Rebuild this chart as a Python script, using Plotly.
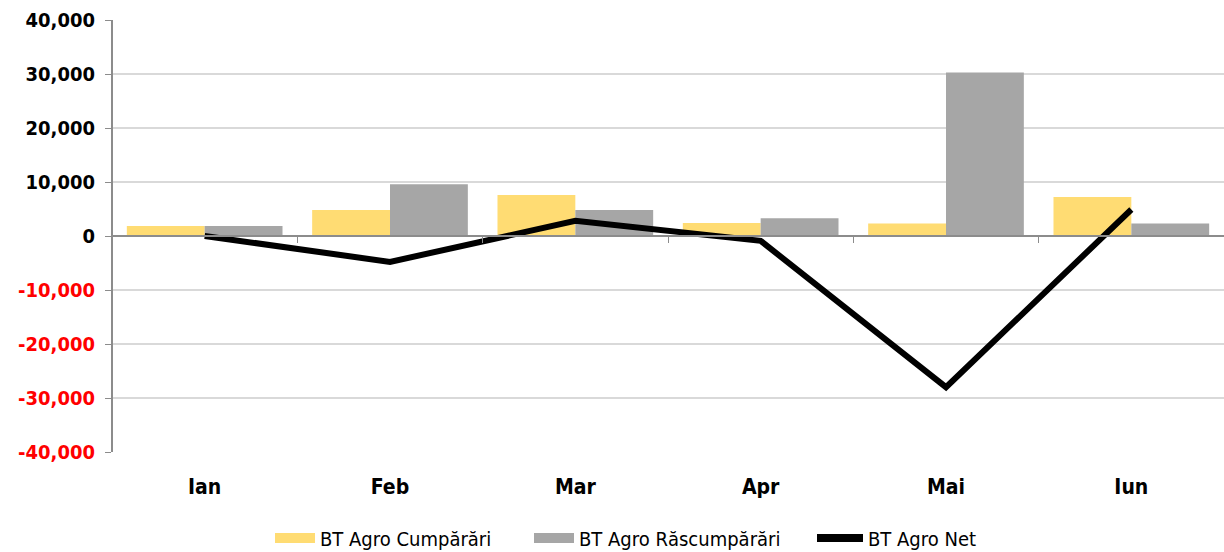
import plotly.graph_objects as go

months = ["Ian", "Feb", "Mar", "Apr", "Mai", "Iun"]
cumparari = [1850, 4800, 7600, 2400, 2300, 7200]
rascumparari = [1850, 9600, 4800, 3300, 30300, 2300]
net = [0, -4800, 2800, -900, -28000, 4900]

tick_vals = [40000, 30000, 20000, 10000, 0, -10000, -20000, -30000, -40000]
tick_text = [
    f"<span style='color:{'#ff0000' if v < 0 else '#000000'}'>{v:,}</span>"
    for v in tick_vals
]

font = "DejaVu Sans Condensed"
yellow = "#FFDC73"
gray = "#A6A6A6"

fig = go.Figure()
fig.add_trace(go.Bar(x=months, y=cumparari, name="BT Agro Cumpărări",
                     marker=dict(color=yellow, line=dict(width=0)),
                     legendgroup="c", showlegend=False))
fig.add_trace(go.Bar(x=months, y=rascumparari, name="BT Agro Răscumpărări",
                     marker=dict(color=gray, line=dict(width=0)),
                     legendgroup="r", showlegend=False))
fig.add_trace(go.Scatter(x=months, y=net, name="BT Agro Net", mode="lines",
                         line=dict(color="#000000", width=6),
                         legendgroup="n", showlegend=False))
# legend entries
fig.add_trace(go.Scatter(x=[None], y=[None], name="BT Agro Cumpărări", mode="lines",
                         line=dict(color=yellow, width=14), legendgroup="c",
                         legend="legend"))
fig.add_trace(go.Scatter(x=[None], y=[None], name="BT Agro Răscumpărări", mode="lines",
                         line=dict(color=gray, width=14), legendgroup="r",
                         legend="legend2"))
fig.add_trace(go.Scatter(x=[None], y=[None], name="BT Agro Net", mode="lines",
                         line=dict(color="#000000", width=8), legendgroup="n",
                         legend="legend3"))

def leg(px_left, iw):
    return dict(orientation="h", x=(px_left - 112) / 1112, xanchor="left",
                y=-0.199, yanchor="middle",
                font=dict(family=font, size=20, color="#000"),
                itemwidth=iw, bgcolor="rgba(0,0,0,0)")

fig.update_layout(
    width=1224, height=552,
    margin=dict(l=112, r=0, t=20, b=100, autoexpand=False),
    paper_bgcolor="white", plot_bgcolor="white",
    barmode="group", bargap=0.16, bargroupgap=0,
    font=dict(family=font, size=18, color="#000"),
    showlegend=True,
    legend=leg(270, 40),
    legend2=leg(529, 40),
    legend3=leg(812, 46),
    xaxis=dict(
        anchor="free", position=0.5, automargin=False,
        showline=True, linecolor="#8c8c8c", linewidth=2,
        ticks="outside", tickson="boundaries", ticklen=6, tickcolor="#8c8c8c",
        ticklabelstandoff=232,
        tickfont=dict(family=font, size=21, color="#000", weight="bold"),
        showgrid=False,
    ),
    yaxis=dict(
        anchor="free", position=0, automargin=False,
        range=[-40000, 40000],
        tickvals=tick_vals, ticktext=tick_text,
        showline=True, linecolor="#8c8c8c", linewidth=2,
        ticks="outside", ticklen=6, tickcolor="#8c8c8c",
        showgrid=True, gridcolor="#d9d9d9", gridwidth=2,
        zeroline=False,
        tickfont=dict(family=font, size=20, weight="bold"),
        ticklabelstandoff=6,
    ),
)

fig.write_html("out.html", config={"displayModeBar": False},
               post_script="document.body.style.margin='0';")
